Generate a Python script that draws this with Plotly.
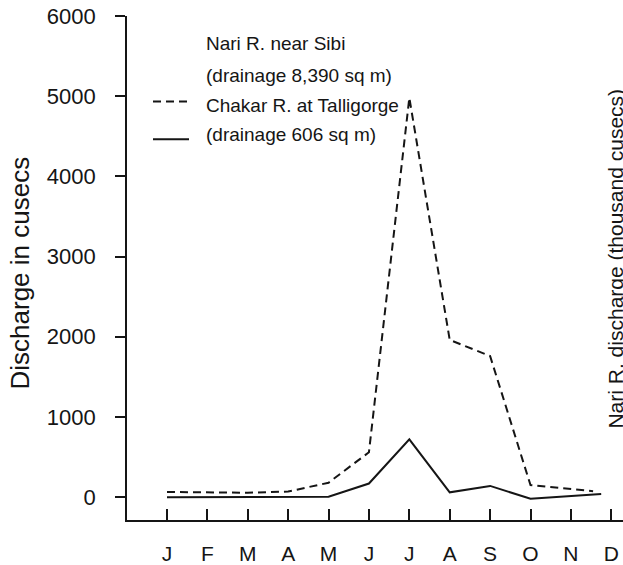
import plotly.graph_objects as go

# ---- data ----
month_labels = ["J", "F", "M", "A", "M", "J", "J", "A", "S", "O", "N", "D"]
month_pos = list(range(12))

nari_x = [0, 1, 2, 3, 4, 5, 6, 7, 8, 9, 10.55]
nari_cusecs = [65, 60, 55, 70, 180, 560, 4980, 1960, 1760, 150, 75]

chakar_x = [0, 1, 2, 3, 4, 5, 6, 7, 8, 9, 10.75]
chakar_cusecs = [0, 0, 0, 0, 5, 170, 720, 60, 140, -20, 40]

y_ticks = [0, 1000, 2000, 3000, 4000, 5000, 6000]

legend_lines = ["Nari R. near Sibi", "(drainage 8,390 sq m)",
                "Chakar R. at Talligorge", "(drainage 606 sq m)"]

# ---- layout helpers (pixel -> paper) ----
W, H = 623, 565
L, R, T, B = 127, 0, 16, 42
PW, PH = W - L - R, H - T - B


def xp(px):
    return (px - L) / PW


def yp(py):
    return (H - B - py) / PH


FONT = "Liberation Sans, Arial, sans-serif"
INK = "#151515"

fig = go.Figure()
fig.add_trace(go.Scatter(x=nari_x, y=nari_cusecs, mode="lines",
                         line=dict(color=INK, width=2, dash="8px,5px"),
                         showlegend=False, hoverinfo="skip"))
fig.add_trace(go.Scatter(x=chakar_x, y=chakar_cusecs, mode="lines",
                         line=dict(color=INK, width=2),
                         showlegend=False, hoverinfo="skip"))

annotations = []
for txt, py in zip(legend_lines, [44, 76, 106, 135]):
    annotations.append(dict(text=txt, x=xp(204), y=yp(py), xref="paper", yref="paper",
                            xanchor="left", yanchor="middle", showarrow=False,
                            font=dict(family=FONT, size=19, color=INK)))
annotations.append(dict(text="Discharge in cusecs", x=xp(20), y=yp(275),
                        xref="paper", yref="paper", textangle=-90,
                        xanchor="center", yanchor="middle", showarrow=False,
                        font=dict(family=FONT, size=26, color=INK)))
annotations.append(dict(text="Nari R. discharge (thousand cusecs)", x=xp(616), y=yp(260),
                        xref="paper", yref="paper", textangle=-90,
                        xanchor="center", yanchor="middle", showarrow=False,
                        font=dict(family=FONT, size=21, color=INK)))

shapes = [
    dict(type="line", xref="paper", yref="paper", x0=xp(153), x1=xp(189),
         y0=yp(102), y1=yp(102), line=dict(color=INK, width=2, dash="8px,5px")),
    dict(type="line", xref="paper", yref="paper", x0=xp(153), x1=xp(189),
         y0=yp(140), y1=yp(140), line=dict(color=INK, width=2)),
]

fig.update_layout(
    width=W, height=H,
    margin=dict(l=L, r=R, t=T, b=B),
    paper_bgcolor="white", plot_bgcolor="white",
    annotations=annotations, shapes=shapes,
    xaxis=dict(range=[-0.99, 11.29], tickvals=month_pos, ticktext=month_labels,
               ticks="inside", ticklen=11, tickwidth=1.5, tickcolor=INK,
               showline=True, linecolor=INK, linewidth=1.6, showgrid=False,
               zeroline=False, ticklabelstandoff=14,
               tickfont=dict(family=FONT, size=21, color=INK)),
    yaxis=dict(range=[-285, 6000], tickvals=y_ticks,
               ticks="outside", ticklen=10, tickwidth=1.5, tickcolor=INK,
               showline=True, linecolor=INK, linewidth=1.6, showgrid=False,
               zeroline=False, ticklabelstandoff=15,
               tickfont=dict(family=FONT, size=22, color=INK)),
)

fig.write_html("out.html")
